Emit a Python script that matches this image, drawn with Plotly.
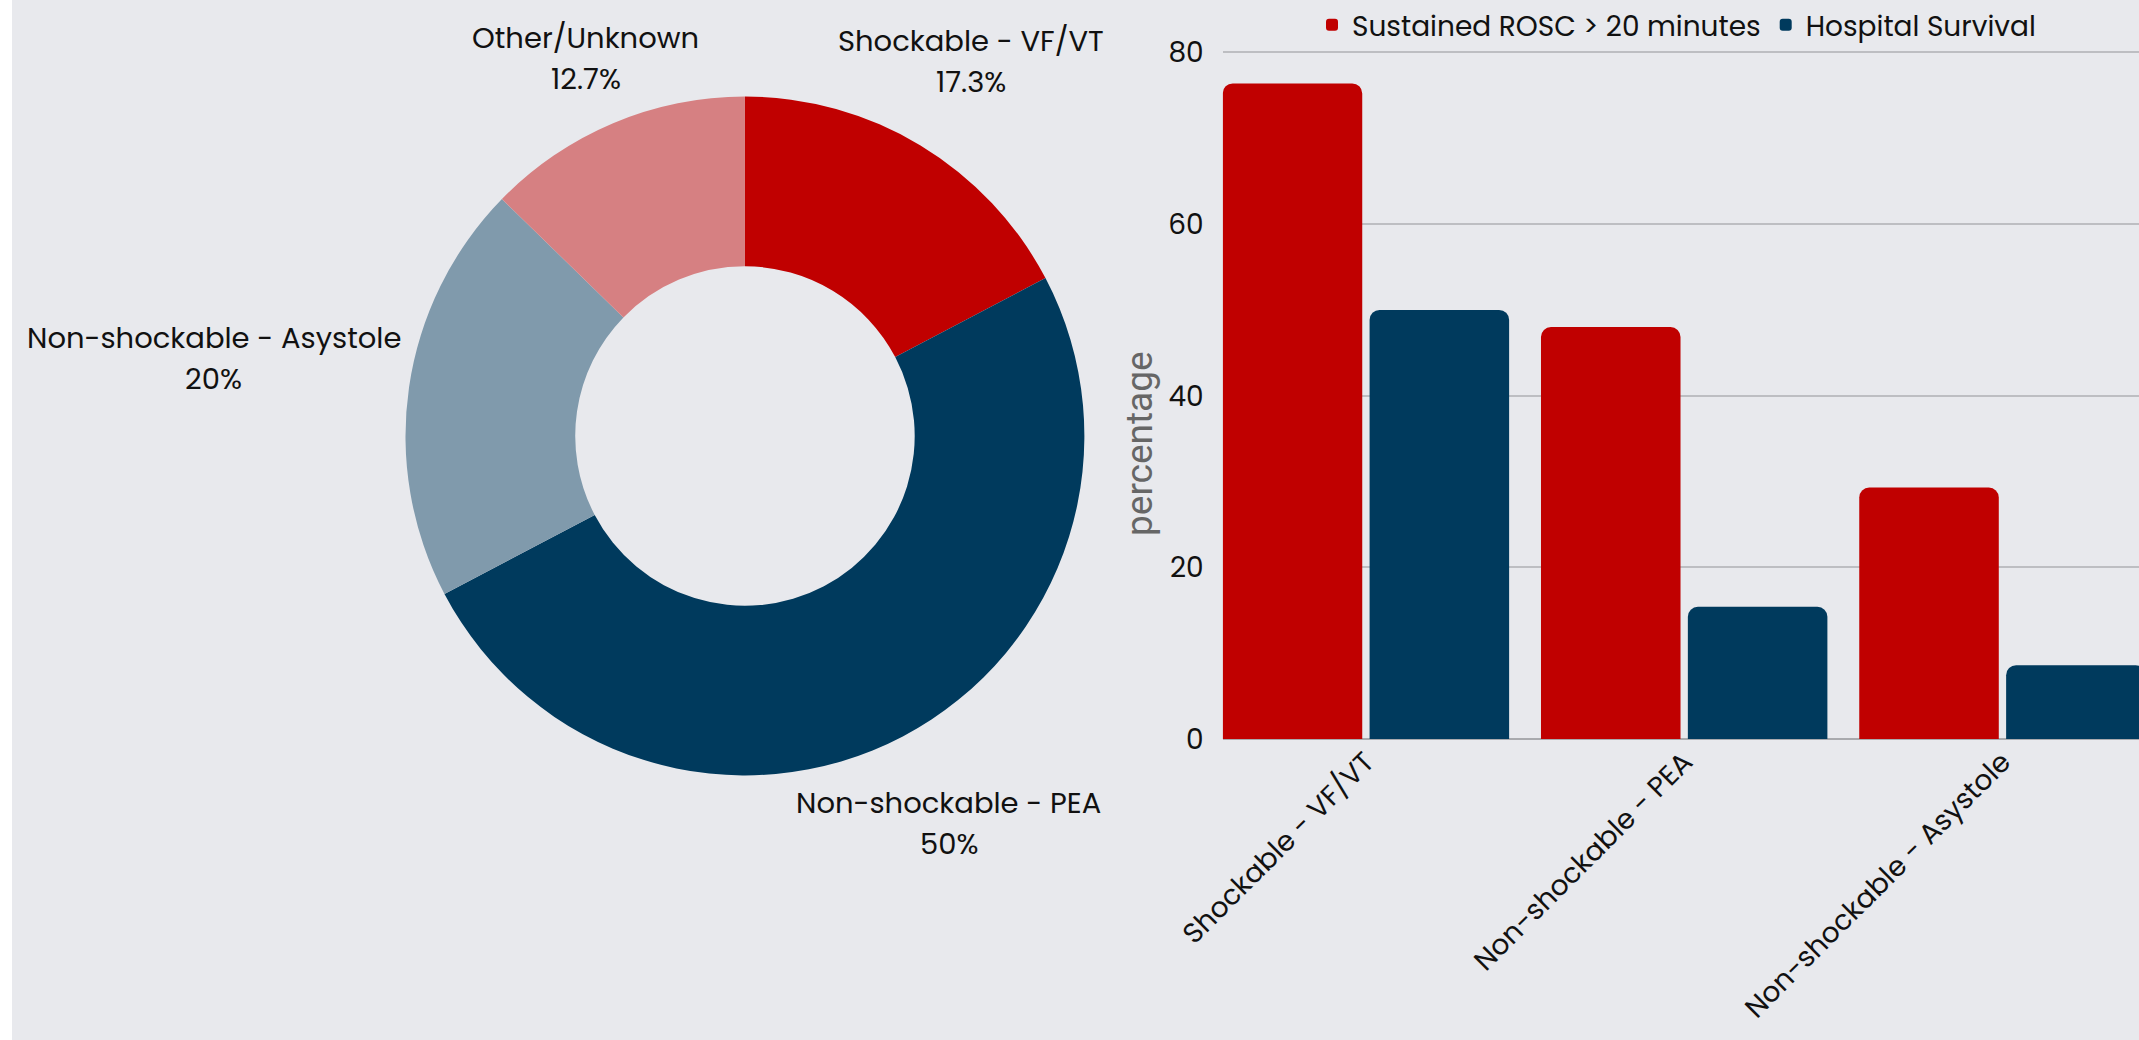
import math
import plotly.graph_objects as go

# ---- data ----
pie_labels = ["Shockable - VF/VT", "Non-shockable - PEA", "Non-shockable - Asystole", "Other/Unknown"]
pie_values = [17.3, 50.0, 20.0, 12.7]
pie_colors = ["#c00000", "#003a5d", "#809aac", "#d68082"]

bar_categories = ["Shockable - VF/VT", "Non-shockable - PEA", "Non-shockable - Asystole"]
rosc_values = [76.4, 48.0, 29.3]
survival_values = [50.0, 15.4, 8.6]
series_names = ["Sustained ROSC > 20 minutes", "Hospital Survival"]
series_colors = ["#c00000", "#003a5d"]
y_ticks = [0, 20, 40, 60, 80]

W, H = 2127, 1040
BG = "#e8e9ed"
FONT = "Poppins, 'Open Sans', sans-serif"
TXT = "#111111"

pie_dom_x = [0.185, 0.5042]
pie_dom_y = [0.2543, 0.9072]

fig = go.Figure()

fig.add_trace(go.Pie(
    labels=pie_labels, values=pie_values, sort=False, direction="clockwise", rotation=0,
    hole=0.5, marker=dict(colors=pie_colors, line=dict(width=0)),
    textinfo="none",
    domain=dict(x=pie_dom_x, y=pie_dom_y),
    showlegend=False, hoverinfo="label+percent",
))

for name, vals, col in zip(series_names, [rosc_values, survival_values], series_colors):
    fig.add_trace(go.Bar(
        x=bar_categories, y=vals, name=name,
        marker=dict(color=col, line=dict(width=0), cornerradius=10),
        xaxis="x", yaxis="y",
    ))

# ---- outside labels of the doughnut, placed radially at each slice's mid-angle ----
cx = (pie_dom_x[0] + pie_dom_x[1]) / 2 * W
cy = (1 - (pie_dom_y[0] + pie_dom_y[1]) / 2) * H
R = min((pie_dom_x[1] - pie_dom_x[0]) * W, (pie_dom_y[1] - pie_dom_y[0]) * H) / 2
total = sum(pie_values)
annotations = []
cum = 0.0
LBL_SIZE = 29
LINE_GAP = 41
for lab, v in zip(pie_labels, pie_values):
    mid = (cum + v / 2) / total * 2 * math.pi
    cum += v
    s, c = math.sin(mid), math.cos(mid)
    pct = v / total * 100
    pct_txt = (f"{pct:.1f}".rstrip("0").rstrip(".")) + "%"
    half_w = len(lab) * LBL_SIZE * 0.545 / 2
    half_h = LBL_SIZE * 1.45
    d = R + abs(s) * half_w + abs(c) * half_h + (8 * abs(s) - 10 * abs(c)) * abs(s * c) * 4
    px, py = cx + d * s, cy - d * c
    for txt, dy in ((lab, -LINE_GAP / 2), (pct_txt, LINE_GAP / 2)):
        annotations.append(dict(
            text=txt, showarrow=False, xref="paper", yref="paper",
            x=px / W, y=1 - (py + dy) / H, xanchor="center", yanchor="middle",
            font=dict(family=FONT, size=LBL_SIZE, color=TXT)))

annotations.append(dict(text="percentage", textangle=-90, showarrow=False,
                        xref="paper", yref="paper", x=1127 / W, y=(H - 444) / H,
                        xanchor="center", yanchor="middle",
                        font=dict(family="Roboto, sans-serif", size=37, color="#666666")))

fig.update_layout(
    width=W, height=H,
    margin=dict(l=0, r=0, t=0, b=0, autoexpand=False),
    paper_bgcolor=BG, plot_bgcolor=BG,
    font=dict(family=FONT, size=28, color=TXT),
    barmode="group", bargap=0.077, bargroupgap=0.05,
    xaxis=dict(domain=[0.5692, 1.0], range=[-0.45, 2.429], type="category",
               tickangle=-45, showgrid=False, showline=False, zeroline=False,
               automargin=False,
               tickfont=dict(size=28, family=FONT, color=TXT), ticks=""),
    yaxis=dict(domain=[0.2895, 0.952], range=[0, 80.3], tickvals=y_ticks,
               showgrid=True, gridcolor="#bdbec2", gridwidth=1.5,
               zeroline=True, zerolinecolor="#a9aaae", zerolinewidth=2,
               showline=False, ticks="", ticklabelstandoff=18, automargin=False,
               tickfont=dict(size=28, family=FONT, color=TXT)),
    legend=dict(orientation="h", x=1300 / W, xanchor="left", y=1.0, yanchor="top",
                font=dict(size=28, family=FONT, color=TXT),
                bgcolor="rgba(0,0,0,0)", itemclick=False, itemdoubleclick=False),
    annotations=annotations,
)

fig.write_html("out.html", post_script="document.body.style.margin='0 0 0 12px';document.body.style.overflow='hidden';document.body.style.background='#ffffff';")
